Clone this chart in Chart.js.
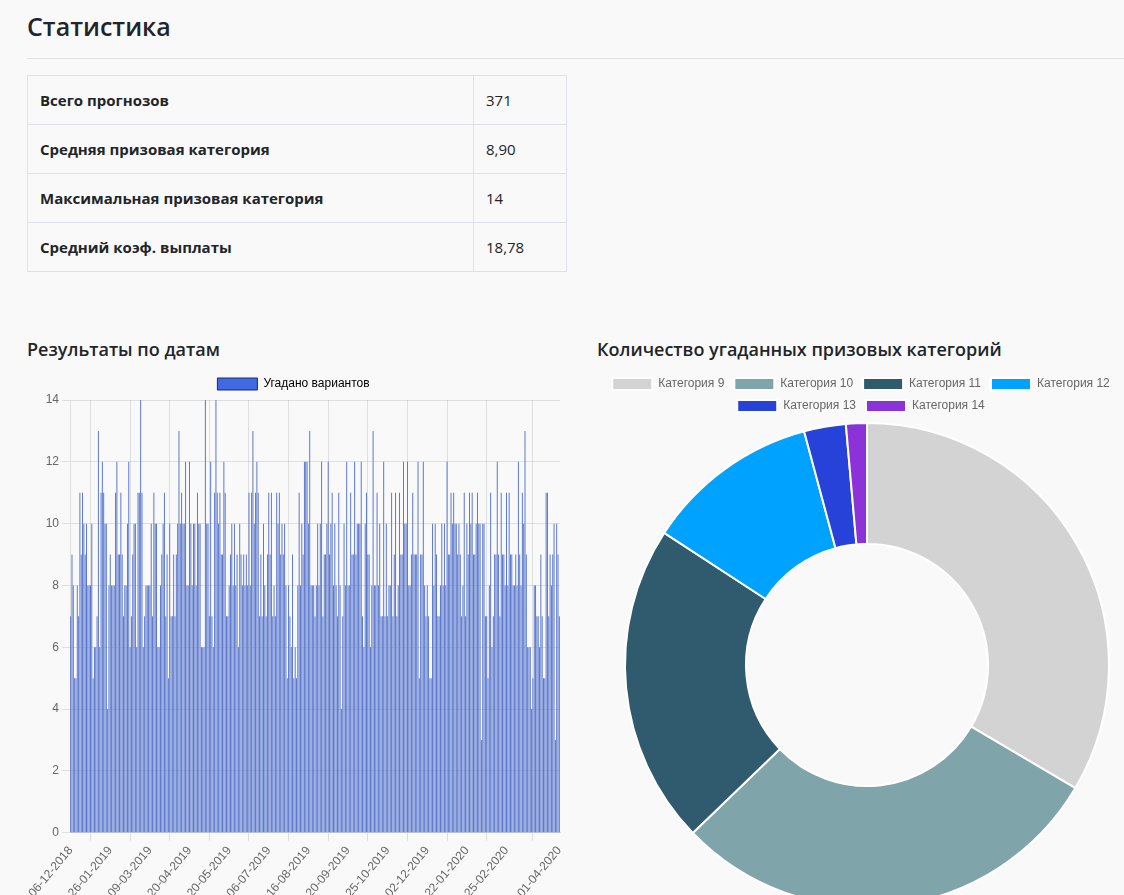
<!DOCTYPE html>
<html lang="ru">
<head>
<meta charset="utf-8">
<title>Статистика</title>
<script src="https://cdn.jsdelivr.net/npm/chart.js"></script>
<style>
    html, body { margin: 0; padding: 0; overflow: hidden; background: #f9f9f9; }
    body { width: 1124px; height: 895px; position: relative; font-family: 'Open Sans', 'Noto Sans', sans-serif; color: #212529; }
    h2 { position: absolute; left: 27px; top: 10px; margin: 0; font-size: 25px; line-height: 32px; font-weight: 600; }
    .rule { position: absolute; left: 27px; right: 0; top: 58px; border-top: 1px solid #e3e3e3; }
    table { position: absolute; left: 27px; top: 75px; width: 540px; border-collapse: collapse; font-size: 15px; }
    td { border: 1px solid #dee2e6; height: 49px; padding: 0 12px; box-sizing: border-box; }
    td:first-child { font-weight: 700; width: 446px; }
    h4 { position: absolute; top: 336px; margin: 0; font-size: 18px; line-height: 26px; font-weight: 600; }
    .box { position: absolute; top: 368px; width: 540px; height: 540px; }
</style>
</head>
<body>
<h2>Статистика</h2>
<div class="rule"></div>
<table>
    <tr><td>Всего прогнозов</td><td>371</td></tr>
    <tr><td>Средняя призовая категория</td><td>8,90</td></tr>
    <tr><td>Максимальная призовая категория</td><td>14</td></tr>
    <tr><td>Средний коэф. выплаты</td><td>18,78</td></tr>
</table>

<h4 style="left:27px">Результаты по датам</h4>
<h4 style="left:597px">Количество угаданных призовых категорий</h4>
<div class="box" style="left:27px"><canvas id="datesChart"></canvas></div>
<div class="box" style="left:597px"><canvas id="categoryChart"></canvas></div>

<script>
// угадано вариантов по каждому прогнозу (371 шт.)
const guessed = [
    7, 9, 8, 5, 5, 8, 7, 11, 9, 11, 10, 9, 10, 8, 8, 8, 10, 5, 6, 6, 7, 13, 6, 11, 12, 11, 10, 10, 4, 8, 9, 8, 8, 8, 11, 12, 9, 9, 11, 9, 7, 8, 8, 10, 12, 6, 7, 9, 10, 10, 6, 11, 11,
    14, 11, 6, 7, 8, 8, 8, 8, 10, 7, 11, 10, 10, 6, 6, 8, 9, 10, 11, 7, 9, 5, 10, 7, 7, 9, 7, 9, 10, 13, 10, 11, 10, 10, 12, 8, 8, 12, 10, 8, 10, 10, 8, 11, 10, 10, 6, 6, 6, 14, 10, 10, 7,
    12, 7, 6, 11, 14, 11, 10, 11, 9, 9, 12, 11, 7, 7, 8, 9, 10, 8, 10, 8, 9, 6, 10, 9, 8, 9, 8, 9, 8, 11, 8, 11, 13, 10, 11, 12, 11, 7, 9, 7, 10, 8, 7, 9, 11, 9, 11, 7, 8, 7, 11, 10, 11,
    9, 10, 9, 10, 8, 5, 8, 7, 6, 9, 5, 6, 5, 8, 11, 8, 10, 9, 12, 12, 12, 10, 13, 8, 8, 8, 7, 8, 10, 8, 10, 12, 7, 9, 9, 10, 12, 9, 10, 11, 8, 10, 8, 7, 11, 8, 4, 7, 10, 8, 12, 8, 8,
    11, 9, 9, 12, 9, 10, 10, 10, 12, 7, 6, 10, 11, 9, 9, 6, 8, 13, 8, 8, 11, 8, 10, 7, 7, 12, 7, 10, 7, 8, 8, 11, 7, 9, 11, 7, 8, 11, 9, 9, 12, 10, 10, 12, 8, 8, 9, 11, 9, 9, 9, 12, 5,
    9, 9, 12, 8, 7, 8, 7, 5, 5, 10, 8, 10, 9, 7, 7, 8, 10, 8, 10, 8, 12, 9, 9, 11, 10, 11, 10, 10, 9, 10, 9, 7, 8, 11, 7, 10, 9, 11, 10, 11, 9, 9, 10, 11, 10, 10, 3, 10, 10, 7, 7, 5, 8,
    11, 6, 7, 9, 9, 12, 9, 7, 11, 9, 9, 8, 11, 8, 11, 9, 9, 8, 8, 9, 8, 12, 9, 8, 11, 10, 13, 9, 6, 6, 6, 4, 5, 8, 8, 7, 7, 6, 9, 7, 5, 5, 11, 11, 7, 9, 8, 9, 10, 3, 10, 9, 7
];
// подписи дат, которые видны на оси X, и номера прогнозов под ними
const dateTickIndex = [0, 30, 60, 90, 120, 150, 180, 210, 240, 270, 300, 330, 370];
const dateTickLabels = ['06-12-2018', '26-01-2019', '09-03-2019', '20-04-2019', '20-05-2019', '06-07-2019',
    '16-08-2019', '20-09-2019', '25-10-2019', '02-12-2019', '22-01-2020', '25-02-2020', '01-04-2020'];
const yTicks = [0, 2, 4, 6, 8, 10, 12, 14];

const categoryNames = ['Категория 9', 'Категория 10', 'Категория 11', 'Категория 12', 'Категория 13', 'Категория 14'];
const categoryCounts = [72, 63, 46, 25, 6, 3];
const categoryColors = ['#d3d3d3', '#7fa4aa', '#305a6e', '#00a2ff', '#2742d8', '#8b33d8'];

const dateLabels = new Array(guessed.length).fill('');
dateTickIndex.forEach((idx, j) => { dateLabels[idx] = dateTickLabels[j]; });

Chart.defaults.animation = false;
Chart.defaults.color = '#666';

new Chart(document.getElementById('datesChart'), {
    type: 'bar',
    data: {
        labels: dateLabels,
        datasets: [{
            label: 'Угадано вариантов',
            data: guessed,
            backgroundColor: '#5573cc',
            borderWidth: 0
        }]
    },
    options: {
        responsive: true,
        maintainAspectRatio: false,
        layout: { padding: { left: 0, right: 7, bottom: 5 } },
        plugins: {
            tooltip: { enabled: false },
            legend: {
                labels: {
                    generateLabels: () => [{
                        text: 'Угадано вариантов',
                        fillStyle: '#4169e1',
                        strokeStyle: '#1c2a6e',
                        lineWidth: 1,
                        datasetIndex: 0
                    }]
                }
            }
        },
        scales: {
            x: {
                grid: { color: 'rgba(0,0,0,0.1)' },
                afterFit: axis => { axis.paddingRight = 0; },
                ticks: {
                    autoSkip: false,
                    minRotation: 50,
                    maxRotation: 50,
                    callback: (value, index) => dateLabels[index] || null
                }
            },
            y: {
                min: 0,
                max: 14,
                afterFit: axis => { axis.width = 43; },
                afterBuildTicks: axis => { axis.ticks = yTicks.map(v => ({ value: v })); },
                grid: { color: 'rgba(0,0,0,0.1)' }
            }
        }
    }
});

new Chart(document.getElementById('categoryChart'), {
    type: 'doughnut',
    data: {
        labels: categoryNames,
        datasets: [{
            data: categoryCounts,
            backgroundColor: categoryColors,
            borderColor: '#fff',
            borderWidth: 2
        }]
    },
    options: {
        responsive: true,
        maintainAspectRatio: false,
        cutout: '50%',
        plugins: { tooltip: { enabled: false } }
    },
    plugins: [{
        // легенда в оригинале чуть левее центра диаграммы
        id: 'legendShift',
        afterLayout: chart => { chart.legend.left -= 6; chart.legend.right -= 6; }
    }]
});
</script>
</body>
</html>
